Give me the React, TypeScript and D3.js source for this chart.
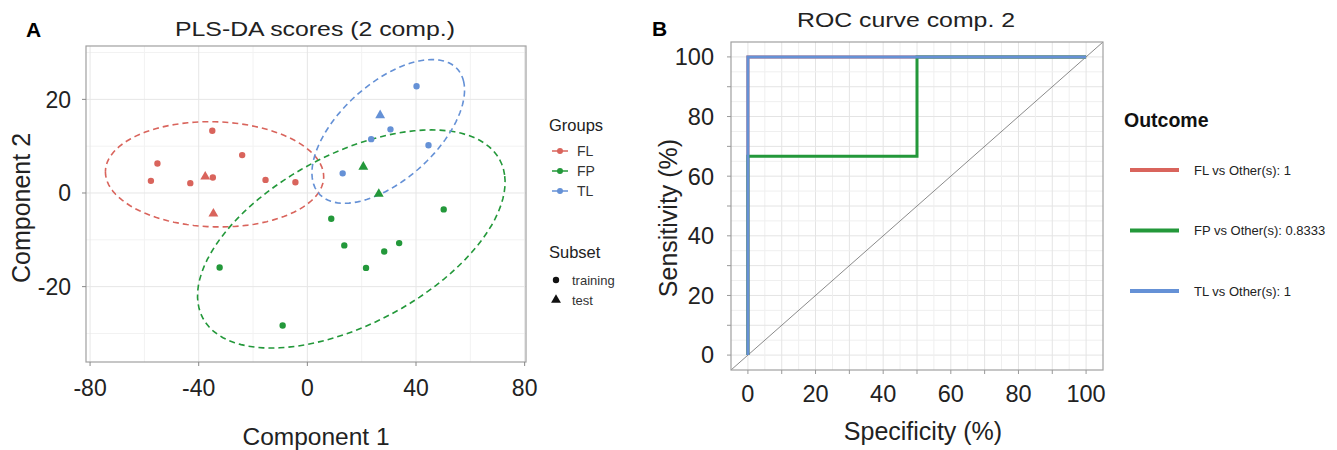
import React from 'react';
import * as d3 from 'd3';

// PLS-DA scores
const groups = ['FL', 'FP', 'TL'];
const groupColors = ['#d9645c', '#23983a', '#6591d6'];
const subsets = ['training', 'test'];

const sampleGroup = [
  'FL', 'FL', 'FL', 'FL', 'FL', 'FL', 'FL', 'FL', 'FL', 'FL',
  'FP', 'FP', 'FP', 'FP', 'FP', 'FP', 'FP', 'FP', 'FP', 'FP',
  'TL', 'TL', 'TL', 'TL', 'TL', 'TL',
];
const sampleSubset = [
  'training', 'training', 'training', 'training', 'training', 'test', 'training', 'training', 'training', 'test',
  'test', 'test', 'training', 'training', 'training', 'training', 'training', 'training', 'training', 'training',
  'training', 'test', 'training', 'training', 'training', 'training',
];
const comp1 = [
  -35.0, -24.0, -55.2, -57.6, -43.1, -37.6, -34.8, -15.4, -4.4, -34.6,
  20.6, 26.3, 50.2, 8.8, 13.6, 33.8, 28.3, 21.6, -32.3, -9.1,
  40.2, 26.8, 30.6, 23.5, 44.6, 13.0,
];
const comp2 = [
  13.3, 8.1, 6.3, 2.6, 2.1, 3.5, 3.3, 2.8, 2.3, -4.4,
  5.6, -0.2, -3.5, -5.5, -11.2, -10.7, -12.5, -16.0, -15.9, -28.3,
  22.8, 16.6, 13.6, 11.5, 10.2, 4.2,
];
const comp1Ticks = [-80, -40, 0, 40, 80];
const comp2Ticks = [-20, 0, 20];

// ROC
const outcomeLabels = ['FL vs Other(s): 1', 'FP vs Other(s): 0.8333', 'TL vs Other(s): 1'];
const rocX = [
  [0, 0, 100],
  [0, 0, 50, 50, 100],
  [0, 0, 100],
];
const rocY = [
  [0, 100, 100],
  [0, 66.67, 66.67, 100, 100],
  [0, 100, 100],
];
const rocTicks = [0, 20, 40, 60, 80, 100];

const FONT = '"Liberation Sans", Arial, sans-serif';

function ellipsePath(xs: number[], ys: number[], sx: any, sy: any) {
  const n = xs.length;
  const mx = d3.mean(xs)!;
  const my = d3.mean(ys)!;
  let a = 0, b = 0, c = 0;
  for (let i = 0; i < n; i++) {
    a += (xs[i] - mx) ** 2;
    b += (xs[i] - mx) * (ys[i] - my);
    c += (ys[i] - my) ** 2;
  }
  a /= n - 1; b /= n - 1; c /= n - 1;
  const tr = a + c;
  const det = a * c - b * b;
  const l1 = tr / 2 + Math.sqrt(tr * tr / 4 - det);
  const l2 = tr / 2 - Math.sqrt(tr * tr / 4 - det);
  const theta = Math.atan2(l1 - a, b);
  const t = Math.sqrt(5.991); // 95% level, 2 df
  const pts: [number, number][] = d3.range(0, 101).map((k) => {
    const u = (k / 100) * 2 * Math.PI;
    const ex = t * Math.sqrt(l1) * Math.cos(u);
    const ey = t * Math.sqrt(l2) * Math.sin(u);
    const x = mx + ex * Math.cos(theta) - ey * Math.sin(theta);
    const y = my + ex * Math.sin(theta) + ey * Math.cos(theta);
    return [sx(x), sy(y)];
  });
  return d3.line()(pts)!;
}

function ScorePlot() {
  const left = 86, right = 526, top = 46, bottom = 362;
  const x = d3.scaleLinear().domain([-81.5, 80.5]).range([left, right]);
  const y = d3.scaleLinear().domain([-36.1, 31.4]).range([bottom, top]);
  const xMinor = d3.range(-60, 80, 40);
  const yMinor = [-30, -10, 10, 30];
  const tri = d3.symbol().type(d3.symbolTriangle).size(42)()!;
  const circ = d3.symbol().type(d3.symbolCircle).size(32)()!;
  return (
    <g fontFamily={FONT}>
      <text x={26} y={37} fontSize={21} fontWeight="bold">A</text>
      <text x={175} y={36} fontSize={21} textLength={280} lengthAdjust="spacingAndGlyphs" fill="#222">PLS-DA scores (2 comp.)</text>
      <rect x={left} y={top} width={right - left} height={bottom - top} fill="#fff" />
      {xMinor.map((v) => (
        <line key={'xm' + v} x1={x(v)} x2={x(v)} y1={top} y2={bottom} stroke="#f2f2f2" />
      ))}
      {yMinor.map((v) => (
        <line key={'ym' + v} x1={left} x2={right} y1={y(v)} y2={y(v)} stroke="#f2f2f2" />
      ))}
      {comp1Ticks.map((v) => (
        <line key={'xg' + v} x1={x(v)} x2={x(v)} y1={top} y2={bottom} stroke="#e6e6e6" />
      ))}
      {comp2Ticks.map((v) => (
        <line key={'yg' + v} x1={left} x2={right} y1={y(v)} y2={y(v)} stroke="#e6e6e6" />
      ))}
      {groups.map((g, gi) => {
        const idx = sampleGroup.map((s, i) => (s === g ? i : -1)).filter((i) => i >= 0);
        return (
          <path
            key={'el' + g}
            d={ellipsePath(idx.map((i) => comp1[i]), idx.map((i) => comp2[i]), x, y)}
            fill="none"
            stroke={groupColors[gi]}
            strokeWidth={1.6}
            strokeDasharray="6,4"
          />
        );
      })}
      {comp1.map((v, i) => (
        <path
          key={'pt' + i}
          d={sampleSubset[i] === 'test' ? tri : circ}
          transform={`translate(${x(v)},${y(comp2[i])})`}
          fill={groupColors[groups.indexOf(sampleGroup[i])]}
        />
      ))}
      <rect x={left} y={top} width={right - left} height={bottom - top} fill="none" stroke="#a0a0a0" strokeWidth={1.2} />
      {comp1Ticks.map((v) => (
        <g key={'xt' + v}>
          <line x1={x(v)} x2={x(v)} y1={bottom} y2={bottom + 4} stroke="#888" />
          <text x={x(v)} y={396} fontSize={23} textAnchor="middle" fill="#222">{v}</text>
        </g>
      ))}
      {comp2Ticks.map((v) => (
        <g key={'yt' + v}>
          <line x1={left - 4} x2={left} y1={y(v)} y2={y(v)} stroke="#888" />
          <text x={71} y={y(v) + 8.2} fontSize={23} textAnchor="end" fill="#222">{v}</text>
        </g>
      ))}
      <text x={316} y={445} fontSize={24.5} textAnchor="middle" fill="#222">Component 1</text>
      <text transform="translate(30,208) rotate(-90)" fontSize={25} textAnchor="middle" fill="#222">Component 2</text>
      <text x={549} y={131} fontSize={16.5} fill="#222">Groups</text>
      {groups.map((g, gi) => (
        <g key={'lg' + g} transform={`translate(0,${151 + gi * 20})`}>
          <line x1={552} x2={568} y1={0} y2={0} stroke={groupColors[gi]} strokeWidth={1.5} />
          <circle cx={560} cy={0} r={3} fill={groupColors[gi]} />
          <text x={577} y={5} fontSize={14} fill="#333">{g}</text>
        </g>
      ))}
      <text x={549} y={258} fontSize={16.5} fill="#222">Subset</text>
      {subsets.map((s, si) => (
        <g key={'ls' + s} transform={`translate(0,${280 + si * 20})`}>
          <path d={si === 1 ? tri : circ} transform="translate(556,0)" fill="#111" />
          <text x={572} y={4.5} fontSize={13} fill="#333">{s}</text>
        </g>
      ))}
    </g>
  );
}

function RocPlot() {
  const left = 731, right = 1103, top = 42, bottom = 370;
  const x = d3.scaleLinear().domain([-5, 105]).range([left, right]);
  const y = d3.scaleLinear().domain([-5, 105]).range([bottom, top]);
  const grid = d3.range(0, 101, 5);
  const minorTicks = d3.range(0, 101, 10);
  const line = d3.line<[number, number]>().x((d) => x(d[0])).y((d) => y(d[1]));
  return (
    <g fontFamily={FONT}>
      <text x={652} y={36} fontSize={21} fontWeight="bold">B</text>
      <text x={797} y={27} fontSize={19.5} textLength={218} lengthAdjust="spacingAndGlyphs" fill="#222">ROC curve comp. 2</text>
      <rect x={left} y={top} width={right - left} height={bottom - top} fill="#fff" />
      {grid.map((v) => (
        <g key={'g' + v}>
          <line x1={x(v)} x2={x(v)} y1={top} y2={bottom} stroke={v % 10 === 0 ? '#e4e4e4' : '#efefef'} />
          <line x1={left} x2={right} y1={y(v)} y2={y(v)} stroke={v % 10 === 0 ? '#e4e4e4' : '#efefef'} />
        </g>
      ))}
      <line x1={x(-5)} y1={y(-5)} x2={x(105)} y2={y(105)} stroke="#8a8a8a" strokeWidth={1} />
      {rocX.map((xs, k) => (
        <path
          key={'roc' + k}
          d={line(xs.map((v, i) => [v, rocY[k][i]] as [number, number]))!}
          fill="none"
          stroke={groupColors[k]}
          strokeWidth={3}
        />
      ))}
      <rect x={left} y={top} width={right - left} height={bottom - top} fill="none" stroke="#a0a0a0" strokeWidth={1.2} />
      {minorTicks.map((v) => (
        <g key={'t' + v}>
          <line x1={x(v)} x2={x(v)} y1={bottom} y2={bottom + 4} stroke="#999" />
          <line x1={left - 4} x2={left} y1={y(v)} y2={y(v)} stroke="#999" />
        </g>
      ))}
      {rocTicks.map((v) => (
        <g key={'l' + v}>
          <text x={x(v)} y={402} fontSize={23.5} textAnchor="middle" fill="#222">{v}</text>
          <text x={714} y={y(v) + 8.4} fontSize={23.5} textAnchor="end" fill="#222">{v}</text>
        </g>
      ))}
      <text x={923} y={440} fontSize={25} textAnchor="middle" fill="#222">Specificity (%)</text>
      <text transform="translate(677,218) rotate(-90)" fontSize={25} textAnchor="middle" fill="#222">Sensitivity (%)</text>
      <text x={1124} y={127} fontSize={19.5} fontWeight="bold" fill="#111">Outcome</text>
      {outcomeLabels.map((s, k) => (
        <g key={'o' + k} transform={`translate(0,${170 + k * 60.5})`}>
          <line x1={1130} x2={1179} y1={0} y2={0} stroke={groupColors[k]} strokeWidth={4} />
          <text x={1194} y={4.5} fontSize={13} fill="#222">{s}</text>
        </g>
      ))}
    </g>
  );
}

export default function App() {
  return (
    <svg
      width={1337}
      height={450}
      style={{ position: 'absolute', left: 0, top: 0, background: '#fff' }}
    >
      <rect width={1337} height={450} fill="#fff" />
      <ScorePlot />
      <RocPlot />
    </svg>
  );
}
